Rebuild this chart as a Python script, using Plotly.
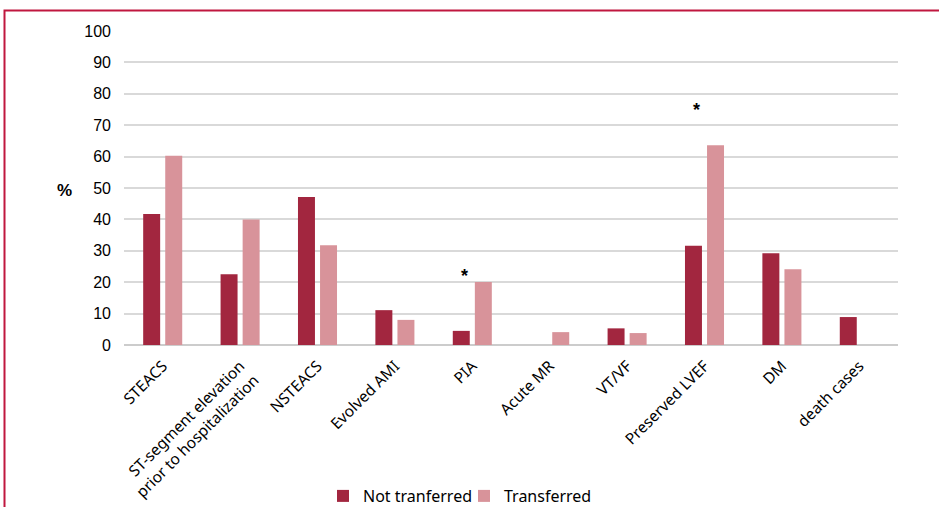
import plotly.graph_objects as go

categories = ["STEACS", "ST-segment elevation<br>prior to hospitalization", "NSTEACS",
              "Evolved AMI", "PIA", "Acute MR", "VT/VF", "Preserved LVEF", "DM", "death cases"]
not_transferred = [41.7, 22.5, 47.1, 11.1, 4.5, 0, 5.3, 31.6, 29.2, 8.9]
transferred = [60.3, 40.0, 31.8, 8.0, 20.1, 4.1, 3.8, 63.6, 24.1, 0]
y_ticks = [0, 10, 20, 30, 40, 50, 60, 70, 80, 90, 100]
star_cats = ["PIA", "Preserved LVEF"]
star_y = [23.2, 76.1]

W, H = 939, 507
L, R, T, B = 124, 41, 31, 162
pw, ph = W - L - R, H - T - B

def px_x(p):
    return (p - L) / pw

def px_y(p):
    return (H - B - p) / ph

fig = go.Figure()
fig.add_bar(x=categories, y=not_transferred, name="Not tranferred",
            marker=dict(color="#A2263F", line=dict(width=0)))
fig.add_bar(x=categories, y=transferred, name="Transferred",
            marker=dict(color="#D8939A", line=dict(width=0)))

for c, yv in zip(star_cats, star_y):
    fig.add_annotation(x=c, y=yv, text="<b>*</b>", showarrow=False, xshift=-8, yshift=-4,
                       font=dict(size=18, color="black", family="Liberation Sans"))

fig.add_annotation(xref="paper", yref="paper", x=px_x(55), y=px_y(190), text="<b>%</b>",
                   showarrow=False, font=dict(size=17, color="black", family="Liberation Sans"))

# frame
fig.add_shape(type="rect", xref="paper", yref="paper",
              x0=px_x(4.5), x1=px_x(945), y0=px_y(540), y1=px_y(10.5),
              line=dict(color="#C0173F", width=2), fillcolor="rgba(0,0,0,0)", layer="below")

fig.update_layout(
    width=W, height=H,
    margin=dict(l=L, r=R, t=T, b=B, autoexpand=False),
    plot_bgcolor="white", paper_bgcolor="white",
    barmode="group", bargap=0.43, bargroupgap=0.23,
    showlegend=True,
    legend=dict(orientation="h", x=px_x(323), xanchor="left", y=px_y(496), yanchor="middle",
                font=dict(size=16, color="black", family="Noto Sans"),
                itemwidth=30, traceorder="normal", entrywidth=96),
    xaxis=dict(tickangle=-45, tickfont=dict(size=15.5, color="black", family="Noto Sans"),
               showgrid=False, showline=False, ticks="", ticklabelstandoff=8),
    yaxis=dict(range=[0, 100], tickvals=y_ticks, showgrid=True, gridcolor="#D9D9D9",
               gridwidth=2, zeroline=True, zerolinecolor="#CCCCCC", zerolinewidth=2,
               tickfont=dict(size=16, color="black", family="Liberation Sans"),
               ticks="", ticklabelstandoff=12),
)

fig.write_html("out.html", config={"displayModeBar": False},
               post_script="document.body.style.margin='0';document.body.style.overflow='hidden';")
